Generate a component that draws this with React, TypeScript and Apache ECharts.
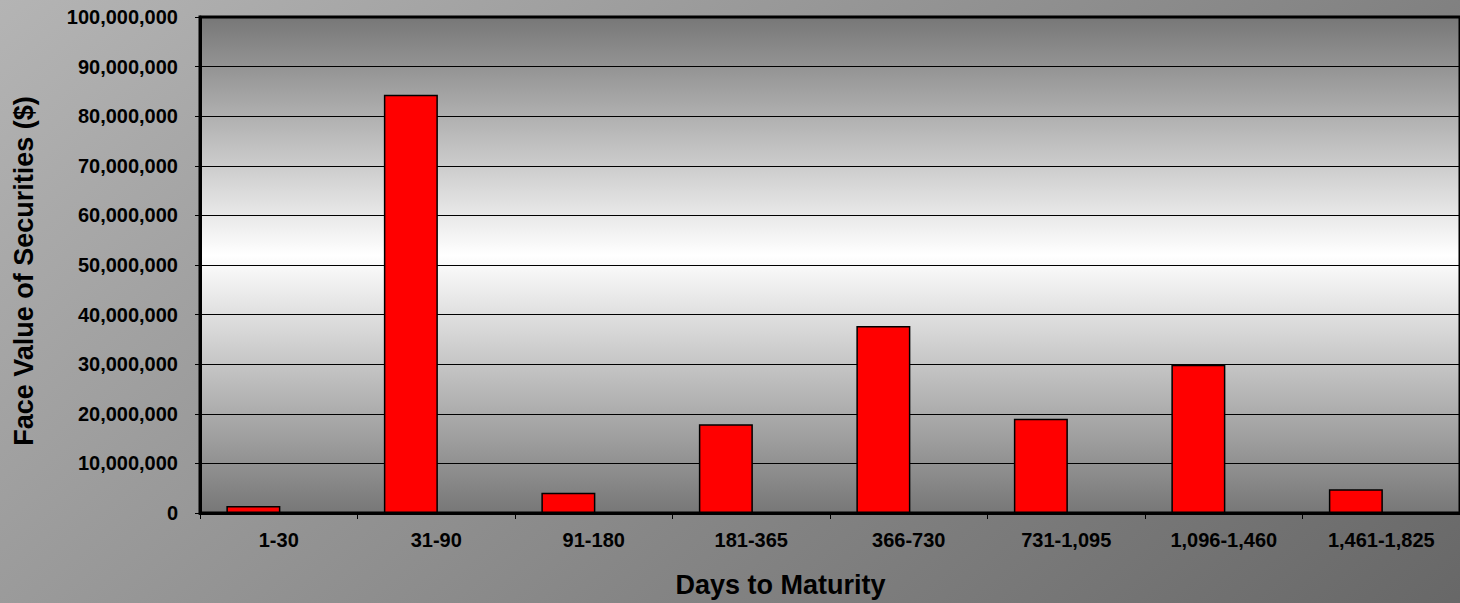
import React, { useEffect, useRef } from "react";
import * as echarts from "echarts";

const categories = [
  "1-30",
  "31-90",
  "91-180",
  "181-365",
  "366-730",
  "731-1,095",
  "1,096-1,460",
  "1,461-1,825",
];
const faceValues = [1400000, 84300000, 4100000, 17900000, 37700000, 19000000, 29900000, 4800000];
const secondSeries = [null, null, null, null, null, null, null, null];
const yMin = 0;
const yMax = 100000000;
const yInterval = 10000000;
const xTitle = "Days to Maturity";
const yTitle = "Face Value of Securities ($)";

export default function App() {
  const ref = useRef<HTMLDivElement>(null);
  useEffect(() => {
    const chart = echarts.init(ref.current!, null, { renderer: "svg" });
    const font = "'Liberation Sans', Arial, sans-serif";
    chart.setOption({
      animation: false,
      backgroundColor: new echarts.graphic.LinearGradient(
        0,
        0,
        937,
        1124,
        [
          { offset: 0, color: "#b4b4b4" },
          { offset: 1, color: "#646464" },
        ],
        true
      ),
      grid: {
        left: 200,
        top: 17,
        width: 1263,
        height: 496,
        show: true,
        borderColor: "#000",
        borderWidth: 3,
        backgroundColor: new echarts.graphic.LinearGradient(0, 0, 0, 1, [
          { offset: 0, color: "#777777" },
          { offset: 0.48, color: "#ffffff" },
          { offset: 1, color: "#777777" },
        ]),
      },
      xAxis: {
        type: "category",
        data: categories,
        axisLine: { show: true, lineStyle: { color: "#000", width: 3 } },
        axisTick: { show: true, length: 6, lineStyle: { color: "#000", width: 1 } },
        axisLabel: {
          color: "#000",
          fontFamily: font,
          fontWeight: "bold",
          fontSize: 20,
          margin: 17,
        },
        name: xTitle,
        nameLocation: "middle",
        nameGap: 58,
        nameTextStyle: {
          color: "#000",
          fontFamily: font,
          fontWeight: "bold",
          fontSize: 27,
          padding: [0, 99, 0, 0],
        },
      },
      yAxis: {
        type: "value",
        min: yMin,
        max: yMax,
        interval: yInterval,
        axisLine: { show: true, lineStyle: { color: "#000", width: 3 } },
        axisTick: { show: true, length: 5, lineStyle: { color: "#000", width: 1 } },
        splitLine: { show: true, lineStyle: { color: "#000", width: 1 } },
        axisLabel: {
          color: "#000",
          fontFamily: font,
          fontWeight: "bold",
          fontSize: 20,
          margin: 22,
          formatter: (v: number) => v.toLocaleString("en-US"),
        },
        name: yTitle,
        nameLocation: "middle",
        nameGap: 163,
        nameTextStyle: {
          color: "#000",
          fontFamily: font,
          fontWeight: "bold",
          fontSize: 27,
          padding: [0, 12, 0, 0],
        },
      },
      series: [
        {
          type: "bar",
          data: faceValues,
          barWidth: 54,
          barGap: "-6%",
          itemStyle: { color: "#ff0000", borderColor: "#000", borderWidth: 1.5 },
        },
        {
          type: "bar",
          data: secondSeries,
          barWidth: 54,
          itemStyle: { color: "#ff0000" },
        },
      ],
    });
    return () => chart.dispose();
  }, []);
  return (
    <div
      ref={ref}
      style={{ position: "absolute", left: 0, top: 0, width: 1460, height: 603 }}
    />
  );
}
